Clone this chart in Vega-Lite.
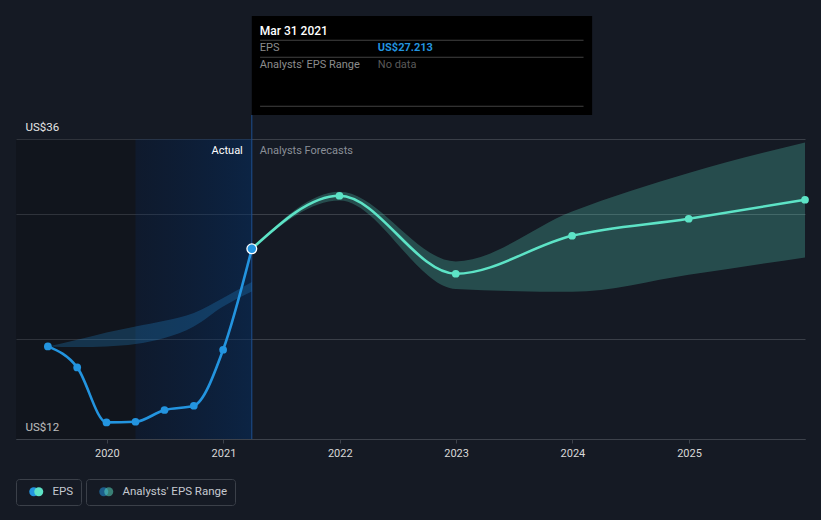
{
  "$schema": "https://vega.github.io/schema/vega-lite/v6.json",
  "width": 789,
  "height": 439,
  "autosize": {"type": "none"},
  "padding": {"left": 16, "right": 16, "top": 0, "bottom": 81},
  "background": "#151a24",
  "config": {"view": {"stroke": null}, "font": "Roboto"},
  "datasets": {
    "eps": [
      {"date": "2019-06-30", "eps": 19.41, "type": "Actual", "series": "EPS"},
      {"date": "2019-09-30", "eps": 17.73, "type": "Actual", "series": "EPS"},
      {"date": "2019-12-31", "eps": 13.33, "type": "Actual", "series": "EPS"},
      {"date": "2020-03-31", "eps": 13.38, "type": "Actual", "series": "EPS"},
      {"date": "2020-06-30", "eps": 14.32, "type": "Actual", "series": "EPS"},
      {"date": "2020-09-30", "eps": 14.66, "type": "Actual", "series": "EPS"},
      {"date": "2020-12-31", "eps": 19.14, "type": "Actual", "series": "EPS"},
      {"date": "2021-03-31", "eps": 27.213, "type": "Actual", "series": "EPS"},
      {"date": "2021-03-31", "eps": 27.213, "type": "Forecast", "series": "EPS"},
      {"date": "2021-12-31", "eps": 31.46, "type": "Forecast", "series": "EPS"},
      {"date": "2022-12-31", "eps": 25.22, "type": "Forecast", "series": "EPS"},
      {"date": "2023-12-31", "eps": 28.26, "type": "Forecast", "series": "EPS"},
      {"date": "2024-12-31", "eps": 29.62, "type": "Forecast", "series": "EPS"},
      {"date": "2025-12-31", "eps": 31.14, "type": "Forecast", "series": "EPS"}
    ],
    "range": [
      {"date": "2019-06-30", "low": 19.41, "high": 19.41, "kind": "PastRange", "band": "Analysts' EPS Range"},
      {"date": "2019-09-30", "low": 19.36, "high": 19.94, "kind": "PastRange", "band": "Analysts' EPS Range"},
      {"date": "2019-12-31", "low": 19.41, "high": 20.53, "kind": "PastRange", "band": "Analysts' EPS Range"},
      {"date": "2020-03-31", "low": 19.6, "high": 21.01, "kind": "PastRange", "band": "Analysts' EPS Range"},
      {"date": "2020-06-30", "low": 20.08, "high": 21.46, "kind": "PastRange", "band": "Analysts' EPS Range"},
      {"date": "2020-09-30", "low": 21.01, "high": 22.08, "kind": "PastRange", "band": "Analysts' EPS Range"},
      {"date": "2020-12-31", "low": 22.61, "high": 23.28, "kind": "PastRange", "band": "Analysts' EPS Range"},
      {"date": "2021-03-31", "low": 23.81, "high": 24.56, "kind": "PastRange", "band": "Analysts' EPS Range"},
      {"date": "2021-03-31", "low": 27.213, "high": 27.213, "kind": "ForecastRange", "band": "Analysts' EPS Range"},
      {"date": "2021-12-31", "low": 31.09, "high": 31.78, "kind": "ForecastRange", "band": "Analysts' EPS Range"},
      {"date": "2022-12-31", "low": 24.0, "high": 26.21, "kind": "ForecastRange", "band": "Analysts' EPS Range"},
      {"date": "2023-12-31", "low": 23.78, "high": 30.21, "kind": "ForecastRange", "band": "Analysts' EPS Range"},
      {"date": "2024-12-31", "low": 25.14, "high": 33.28, "kind": "ForecastRange", "band": "Analysts' EPS Range"},
      {"date": "2025-12-31", "low": 26.53, "high": 35.73, "kind": "ForecastRange", "band": "Analysts' EPS Range"}
    ],
    "periods": [
      {"start": "2019-03-22", "end": "2020-03-31", "period": "history"},
      {"start": "2020-03-31", "end": "2021-03-31", "period": "lastYear"}
    ]
  },
  "layer": [
    {
      "data": {"name": "periods"},
      "transform": [{"filter": "datum.period == 'history'"}],
      "mark": {"type": "rect", "fill": "#000000", "opacity": 0.18},
      "encoding": {
        "x": {
          "field": "start", "type": "temporal", "title": null,
          "scale": {"type": "utc", "nice": false, "domain": [{"year": 2019, "month": 3, "date": 22, "utc": true}, {"year": 2025, "month": 12, "date": 31, "utc": true}]},
          "axis": {"title": null, "format": "%Y", "tickCount": "year", "grid": false, "domainColor": "#3d424b", "tickColor": "#3d424b", "tickSize": 4, "labelColor": "#d8d8d8", "labelFontSize": 11, "labelFont": "Roboto", "labelPadding": 4, "labelFlush": false}
        },
        "x2": {"field": "end"},
        "y": {
          "datum": 36, "type": "quantitative", "title": null,
          "scale": {"domain": [12, 47.12], "nice": false, "zero": false},
          "axis": {"title": null, "values": [12, 20, 30, 36], "domain": false, "ticks": false, "tickSize": 0, "grid": true, "gridColor": "#3a3f48", "labelExpr": "datum.value == 12 || datum.value == 36 ? 'US$' + datum.value : ''", "labelAlign": "left", "labelBaseline": "bottom", "labelPadding": -9, "labelOffset": -6.5, "labelColor": "#e6e6e6", "labelFontSize": 11.5, "labelFont": "Roboto", "labelFlush": false}
        },
        "y2": {"datum": 12}
      }
    },
    {
      "data": {"name": "periods"},
      "transform": [{"filter": "datum.period == 'lastYear'"}],
      "mark": {"type": "rect", "fill": {"gradient": "linear", "x1": 0, "x2": 1, "y1": 0, "y2": 0, "stops": [{"offset": 0, "color": "rgba(0,26,66,0.3)"}, {"offset": 1, "color": "rgba(3,46,100,0.5)"}]}},
      "encoding": {
        "x": {"field": "start", "type": "temporal", "title": null},
        "x2": {"field": "end"},
        "y": {"datum": 36, "type": "quantitative", "title": null},
        "y2": {"datum": 12}
      }
    },
    {
      "data": {"values": [{}]},
      "mark": {"type": "rule", "color": "#1d4f91", "strokeWidth": 1},
      "encoding": {
        "x": {"datum": {"year": 2021, "month": 3, "date": 31, "utc": true}, "type": "temporal", "title": null},
        "y": {"datum": 12, "type": "quantitative", "title": null},
        "y2": {"datum": 37.92}
      }
    },
    {
      "data": {"name": "range"},
      "transform": [{"filter": "datum.kind == 'PastRange'"}],
      "mark": {"type": "area", "interpolate": "monotone", "opacity": 0.25},
      "encoding": {
        "x": {"field": "date", "type": "temporal", "title": null},
        "y": {"field": "low", "type": "quantitative", "title": null, "stack": null},
        "y2": {"field": "high"},
        "fill": {
          "field": "band", "type": "nominal", "scale": {"range": ["#2394df"]},
          "legend": {"orient": "none", "legendX": 70, "legendY": 479, "direction": "horizontal", "title": null, "symbolType": "circle", "symbolSize": 81, "symbolStrokeWidth": 0, "symbolOpacity": 0.55, "symbolOffset": 5, "labelOffset": 13, "labelColor": "#c5c9d0", "labelFont": "Roboto", "labelFontSize": 11.5, "strokeColor": "#3b4049", "cornerRadius": 3, "padding": 7}
        }
      }
    },
    {
      "data": {"name": "range"},
      "transform": [{"filter": "datum.kind == 'ForecastRange'"}],
      "mark": {"type": "area", "interpolate": "monotone", "fill": "#5de3c6", "opacity": 0.25, "strokeWidth": 0},
      "encoding": {
        "x": {"field": "date", "type": "temporal", "title": null},
        "y": {"field": "low", "type": "quantitative", "title": null, "stack": null},
        "y2": {"field": "high"},
        "stroke": {
          "field": "kind", "type": "nominal", "scale": {"range": ["#5de3c6"]},
          "legend": {"orient": "none", "legendX": 70, "legendY": 479, "direction": "horizontal", "title": null, "labelExpr": "''", "symbolType": "circle", "symbolSize": 81, "symbolStrokeWidth": 0, "symbolOpacity": 0.5, "symbolOffset": 10, "labelOffset": 13, "labelFontSize": 11.5, "strokeColor": "transparent", "padding": 7}
        }
      }
    },
    {
      "data": {"name": "eps"},
      "transform": [{"filter": "datum.type == 'Actual'"}],
      "mark": {"type": "line", "interpolate": "monotone", "strokeWidth": 2.6, "color": "#2394df"},
      "encoding": {
        "x": {"field": "date", "type": "temporal", "title": null},
        "y": {"field": "eps", "type": "quantitative", "title": null}
      }
    },
    {
      "data": {"name": "eps"},
      "transform": [{"filter": "datum.type == 'Forecast'"}],
      "mark": {"type": "line", "interpolate": "monotone", "strokeWidth": 2.6, "color": "#5de3c6"},
      "encoding": {
        "x": {"field": "date", "type": "temporal", "title": null},
        "y": {"field": "eps", "type": "quantitative", "title": null}
      }
    },
    {
      "data": {"name": "eps"},
      "transform": [{"filter": "datum.type == 'Actual'"}, {"filter": {"not": {"field": "date", "equal": {"year": 2021, "month": 3, "date": 31, "utc": true}}}}],
      "mark": {"type": "point", "filled": true, "size": 60, "color": "#2394df"},
      "encoding": {
        "x": {"field": "date", "type": "temporal", "title": null},
        "y": {"field": "eps", "type": "quantitative", "title": null},
        "opacity": {
          "field": "series", "type": "ordinal", "scale": {"range": [1, 1]},
          "legend": {"orient": "none", "legendX": 0, "legendY": 479, "direction": "horizontal", "title": null, "symbolType": "circle", "symbolSize": 81, "symbolStrokeWidth": 0, "symbolOffset": 5, "labelOffset": 13, "labelColor": "#c5c9d0", "labelFont": "Roboto", "labelFontSize": 11.5, "strokeColor": "#3b4049", "cornerRadius": 3, "padding": 7}
        }
      }
    },
    {
      "data": {"name": "eps"},
      "transform": [{"filter": "datum.type == 'Forecast'"}, {"filter": {"not": {"field": "date", "equal": {"year": 2021, "month": 3, "date": 31, "utc": true}}}}],
      "mark": {"type": "point", "filled": true, "size": 60, "color": "#5de3c6", "opacity": 1},
      "encoding": {
        "x": {"field": "date", "type": "temporal", "title": null},
        "y": {"field": "eps", "type": "quantitative", "title": null},
        "shape": {
          "field": "type", "type": "nominal", "scale": {"range": ["circle"]},
          "legend": {"orient": "none", "legendX": 0, "legendY": 479, "direction": "horizontal", "title": null, "labelExpr": "''", "symbolSize": 81, "symbolStrokeWidth": 0, "symbolOffset": 10, "labelOffset": 13, "labelFontSize": 11.5, "strokeColor": "transparent", "padding": 7}
        }
      }
    },
    {
      "data": {"name": "eps"},
      "transform": [{"filter": {"and": [{"field": "date", "equal": {"year": 2021, "month": 3, "date": 31, "utc": true}}, {"field": "type", "equal": "Actual"}]}}],
      "mark": {"type": "point", "filled": true, "size": 95, "opacity": 1, "color": "#2394df", "stroke": "#ffffff", "strokeWidth": 1.3},
      "encoding": {
        "x": {"field": "date", "type": "temporal", "title": null},
        "y": {"field": "eps", "type": "quantitative", "title": null}
      }
    },
    {
      "data": {"values": [{}]},
      "mark": {"type": "text", "text": "Actual", "align": "right", "baseline": "middle", "dx": -9, "fontSize": 11, "font": "Roboto", "color": "#ffffff"},
      "encoding": {
        "x": {"datum": {"year": 2021, "month": 3, "date": 31, "utc": true}, "type": "temporal", "title": null},
        "y": {"datum": 35.04, "type": "quantitative", "title": null}
      }
    },
    {
      "data": {"values": [{}]},
      "mark": {"type": "text", "text": "Analysts Forecasts", "align": "left", "baseline": "middle", "dx": 8, "fontSize": 11, "font": "Roboto", "color": "#8a8f97"},
      "encoding": {
        "x": {"datum": {"year": 2021, "month": 3, "date": 31, "utc": true}, "type": "temporal", "title": null},
        "y": {"datum": 35.04, "type": "quantitative", "title": null}
      }
    },
    {
      "data": {"values": [{}]},
      "mark": {"type": "rect", "fill": "#000000"},
      "encoding": {
        "x": {"datum": {"year": 2021, "month": 3, "date": 31, "utc": true}, "type": "temporal", "title": null},
        "x2": {"datum": {"year": 2024, "month": 3, "date": 3, "utc": true}},
        "y": {"datum": 45.84, "type": "quantitative", "title": null},
        "y2": {"datum": 37.92}
      }
    },
    {
      "data": {"values": [{}]},
      "mark": {"type": "rule", "color": "#424242", "strokeWidth": 1},
      "encoding": {
        "x": {"datum": {"year": 2021, "month": 4, "date": 26, "utc": true}, "type": "temporal", "title": null},
        "x2": {"datum": {"year": 2024, "month": 2, "date": 5, "utc": true}},
        "y": {"datum": 43.9, "type": "quantitative", "title": null}
      }
    },
    {
      "data": {"values": [{}]},
      "mark": {"type": "rule", "color": "#424242", "strokeWidth": 1},
      "encoding": {
        "x": {"datum": {"year": 2021, "month": 4, "date": 26, "utc": true}, "type": "temporal", "title": null},
        "x2": {"datum": {"year": 2024, "month": 2, "date": 5, "utc": true}},
        "y": {"datum": 42.54, "type": "quantitative", "title": null}
      }
    },
    {
      "data": {"values": [{}]},
      "mark": {"type": "rule", "color": "#424242", "strokeWidth": 1},
      "encoding": {
        "x": {"datum": {"year": 2021, "month": 4, "date": 26, "utc": true}, "type": "temporal", "title": null},
        "x2": {"datum": {"year": 2024, "month": 2, "date": 5, "utc": true}},
        "y": {"datum": 38.62, "type": "quantitative", "title": null}
      }
    },
    {
      "data": {"values": [{}]},
      "mark": {"type": "text", "text": "Mar 31 2021", "align": "left", "baseline": "middle", "dx": 8, "fontSize": 12, "font": "Roboto", "fontWeight": 500, "color": "#ffffff"},
      "encoding": {
        "x": {"datum": {"year": 2021, "month": 3, "date": 31, "utc": true}, "type": "temporal", "title": null},
        "y": {"datum": 44.64, "type": "quantitative", "title": null}
      }
    },
    {
      "data": {"values": [{}]},
      "mark": {"type": "text", "text": "EPS", "align": "left", "baseline": "middle", "dx": 8, "fontSize": 11, "font": "Roboto", "color": "#8c8c8c"},
      "encoding": {
        "x": {"datum": {"year": 2021, "month": 3, "date": 31, "utc": true}, "type": "temporal", "title": null},
        "y": {"datum": 43.26, "type": "quantitative", "title": null}
      }
    },
    {
      "data": {"values": [{}]},
      "mark": {"type": "text", "text": "US$27.213", "align": "left", "baseline": "middle", "dx": 126, "fontSize": 11, "font": "Roboto", "fontWeight": "bold", "color": "#2394df"},
      "encoding": {
        "x": {"datum": {"year": 2021, "month": 3, "date": 31, "utc": true}, "type": "temporal", "title": null},
        "y": {"datum": 43.26, "type": "quantitative", "title": null}
      }
    },
    {
      "data": {"values": [{}]},
      "mark": {"type": "text", "text": "Analysts' EPS Range", "align": "left", "baseline": "middle", "dx": 8, "fontSize": 11, "font": "Roboto", "color": "#8c8c8c"},
      "encoding": {
        "x": {"datum": {"year": 2021, "month": 3, "date": 31, "utc": true}, "type": "temporal", "title": null},
        "y": {"datum": 41.92, "type": "quantitative", "title": null}
      }
    },
    {
      "data": {"values": [{}]},
      "mark": {"type": "text", "text": "No data", "align": "left", "baseline": "middle", "dx": 126, "fontSize": 11, "font": "Roboto", "color": "#5a5a5a"},
      "encoding": {
        "x": {"datum": {"year": 2021, "month": 3, "date": 31, "utc": true}, "type": "temporal", "title": null},
        "y": {"datum": 41.92, "type": "quantitative", "title": null}
      }
    }
  ]
}
